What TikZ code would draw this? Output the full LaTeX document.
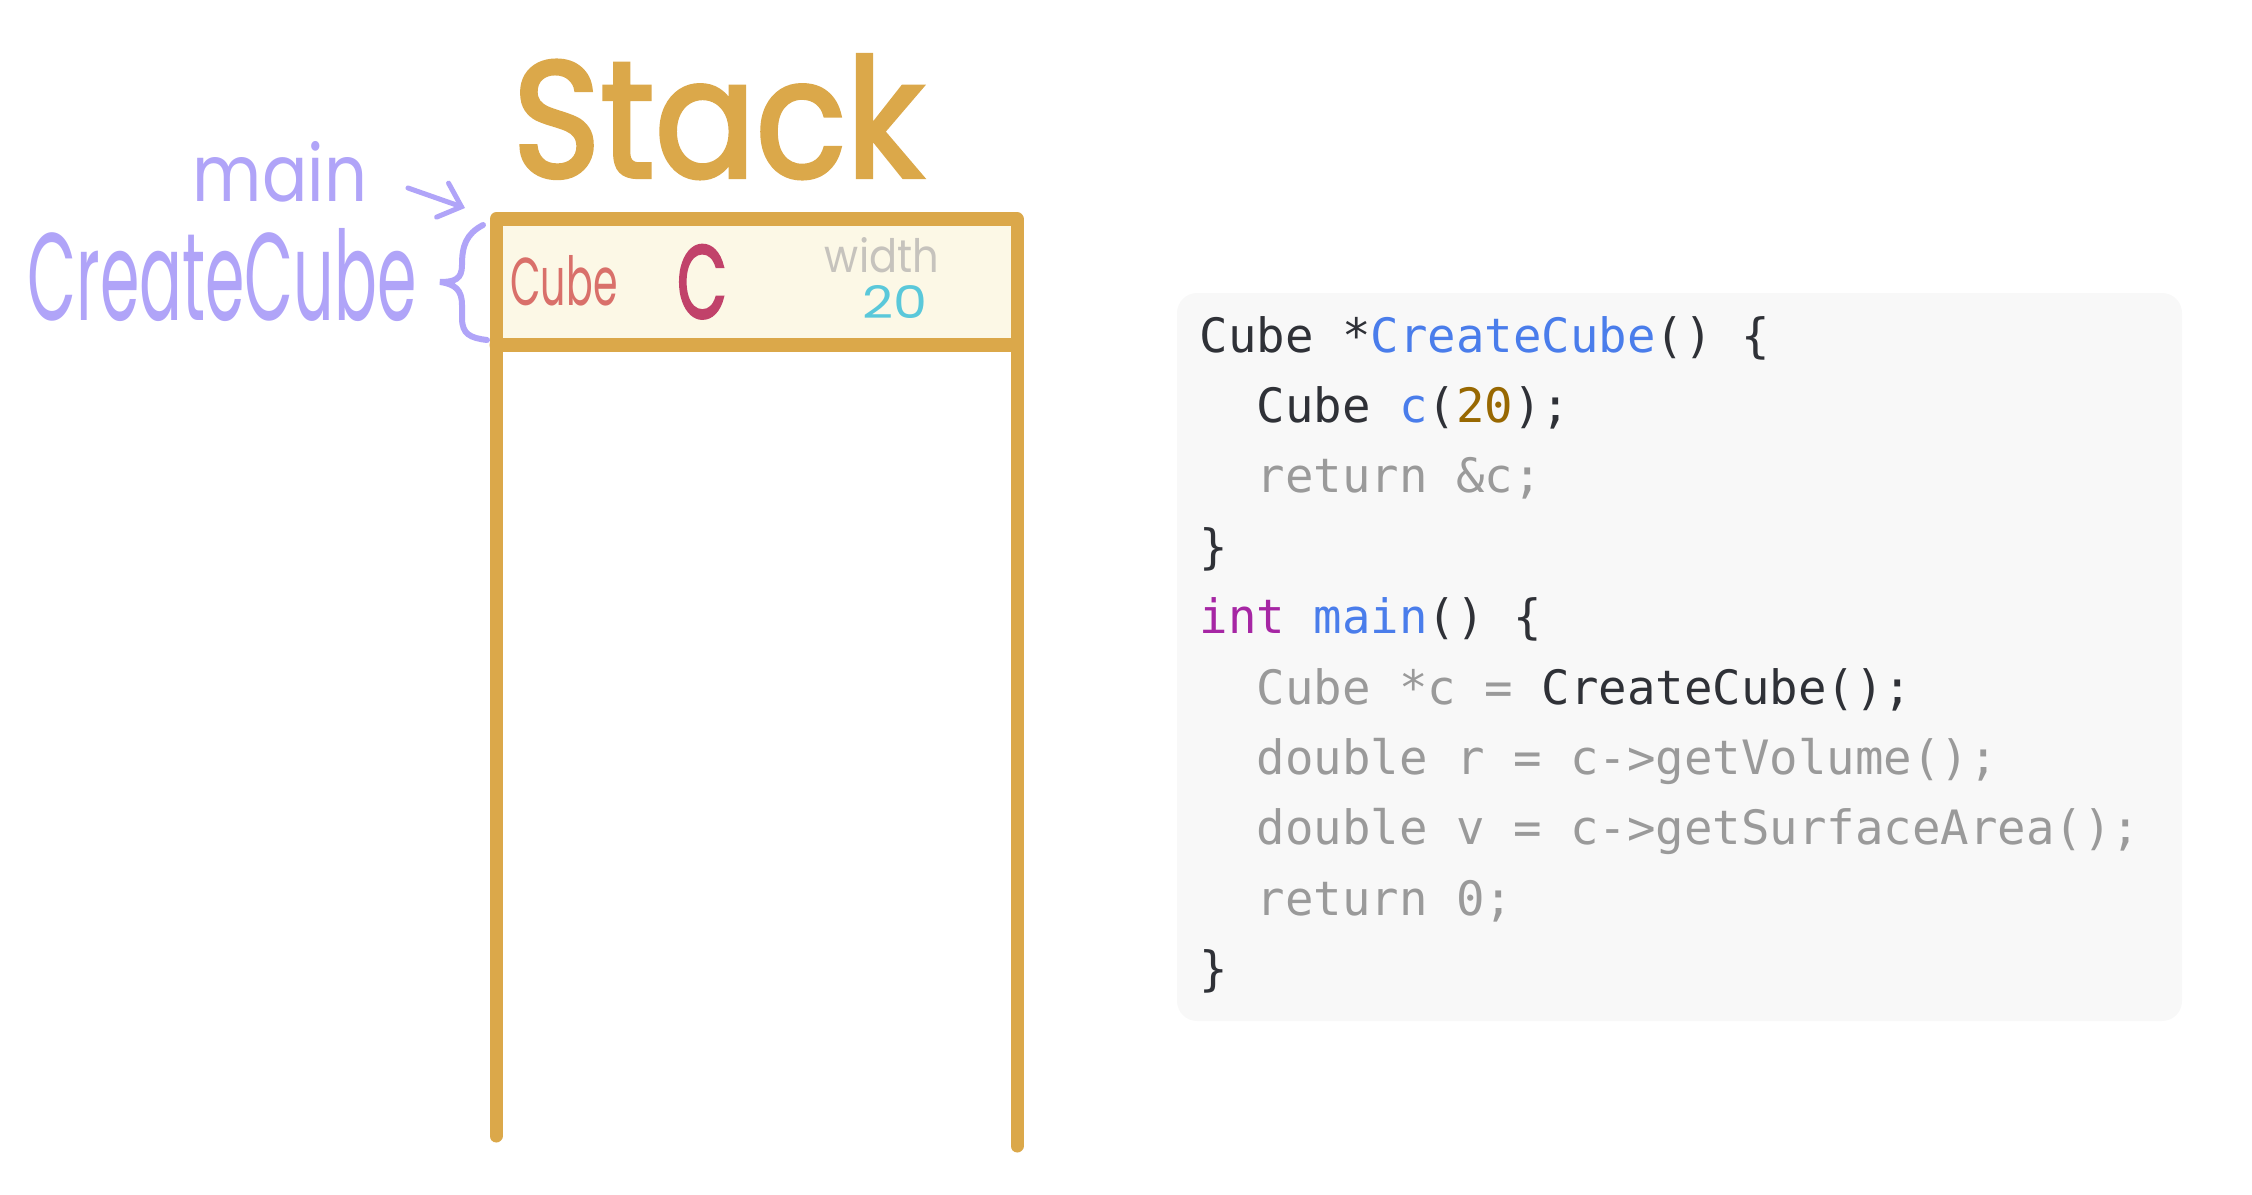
\documentclass[tikz,border=0pt]{standalone}
\usepackage{fontspec}
\usepackage{graphicx}
\usetikzlibrary{arrows.meta}
\newfontfamily\codefont{DejaVu Sans Mono}
\newfontfamily\handfont{Poppins}
\newfontfamily\handbold[FakeBold=2.5]{Poppins}
\definecolor{gold}{HTML}{DBA84A}
\definecolor{cream}{HTML}{FCF8E6}
\definecolor{lav}{HTML}{B0A4F8}
\definecolor{cubered}{HTML}{D9706A}
\definecolor{cmag}{HTML}{C1426A}
\definecolor{wgray}{HTML}{C6C3BD}
\definecolor{cyanish}{HTML}{5AC8DA}
\definecolor{codebg}{HTML}{F8F8F8}
\definecolor{cdark}{HTML}{2F3137}
\definecolor{cblue}{HTML}{4A7DEB}
\definecolor{cbrown}{HTML}{986801}
\definecolor{cpurple}{HTML}{A626A4}
\definecolor{cgray}{HTML}{9A9A9A}
\begin{document}
\begin{tikzpicture}[x=0.01cm,y=-0.01cm,
  codeline/.style={anchor=base west, inner sep=0pt, text=cdark,
    font=\codefont\fontsize{13.46pt}{16pt}\selectfont},
  hand/.style={anchor=base, inner sep=0pt},
  stackline/.style={draw=gold, line width=0.13cm, line cap=round, line join=round}]
\useasboundingbox (0,0) rectangle (2252,1194);

% stack title
\node[hand, text=gold] (stack) at (718,177) {\resizebox{4.1cm}{1.22cm}{\handbold Stack}};

% stack frame
\fill[cream] (496,219) rectangle (1017,345);
\draw[stackline] (496,1136) -- (496,219) -- (1017,219) -- (1017,1146);
\draw[stackline] (496,345) -- (1017,345);

% cell contents
\node[hand, text=cubered] (cubet) at (564,305) {\resizebox{1.07cm}{0.5cm}{\handfont Cube}};
\node[hand, text=cmag] (cvar) at (702,318) {\resizebox{0.5cm}{0.73cm}{\handbold C}};
\node[hand, text=wgray] (wid) at (882,272) {\resizebox{1.14cm}{0.35cm}{\handfont width}};
\node[hand, text=cyanish] (val) at (895,318) {\resizebox{0.65cm}{0.33cm}{\handfont 20}};

% labels
\node[hand, text=lav] (mainl) at (280,202) {\resizebox{1.74cm}{0.6cm}{\handfont main}};
\node[hand, text=lav] (ccl) at (222,320) {\resizebox{3.89cm}{0.92cm}{\handfont CreateCube}};
\coordinate (am) at (408,188);
\coordinate (ap) at (465,208);
\draw[lav, line width=0.05cm, line cap=round,
  -{Straight Barb[length=0.2cm,width=0.36cm,line cap=round]}] (am) -- (ap);
\draw[lav, line width=0.06cm, line cap=round]
  (483,225) .. controls (466,234) and (462,246) .. (462,265)
  .. controls (462,279) and (455,282) .. (440,282)
  .. controls (455,284) and (462,290) .. (462,305)
  -- (462,318) .. controls (462,334) and (470,338) .. (487,340);

% code panel
\fill[codebg, rounded corners=0.2cm] (1177,293) rectangle (2182,1021);
\node[codeline] (l1) at (1199,352) {Cube *{\color{cblue}CreateCube}() \{};
\node[codeline] (l2) at (1256,422.4) {Cube {\color{cblue}c}({\color{cbrown}20});};
\node[codeline, text=cgray] (l3) at (1256,492.8) {return \&c;};
\node[codeline] (l4) at (1199,563.2) {\}};
\node[codeline] (l5) at (1199,633.6) {{\color{cpurple}int} {\color{cblue}main}() \{};
\node[codeline, text=cgray] (l6) at (1256,704) {Cube *c = {\color{cdark}CreateCube();}};
\node[codeline, text=cgray] (l7) at (1256,774.4) {double r = c->getVolume();};
\node[codeline, text=cgray] (l8) at (1256,844.8) {double v = c->getSurfaceArea();};
\node[codeline, text=cgray] (l9) at (1256,915.2) {return 0;};
\node[codeline] (l10) at (1199,985.6) {\}};
\end{tikzpicture}
\end{document}
